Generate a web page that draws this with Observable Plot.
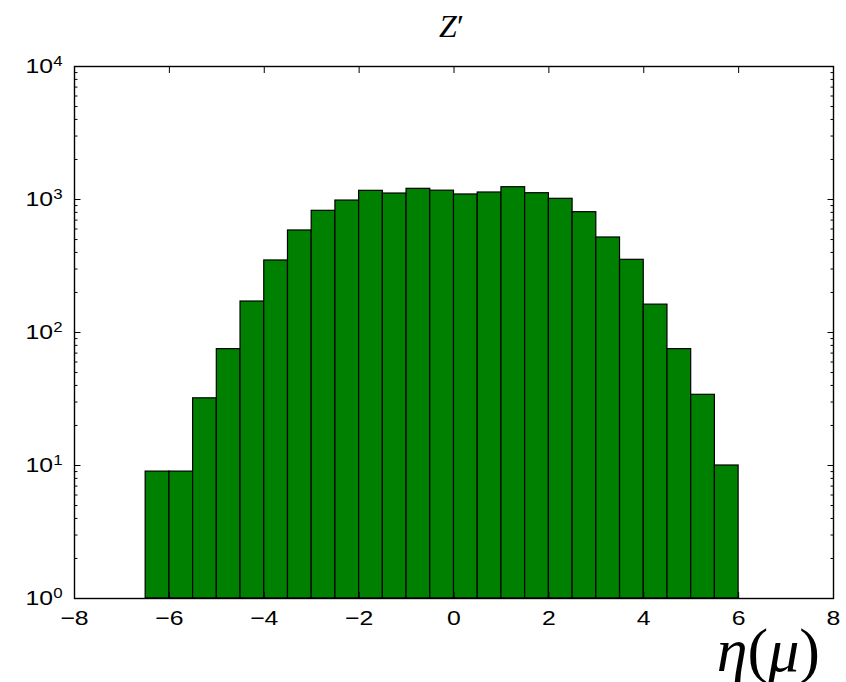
<!DOCTYPE html>
<html>
<head>
<meta charset="utf-8">
<script src="https://cdn.jsdelivr.net/npm/d3@7"></script>
<script src="https://cdn.jsdelivr.net/npm/@observablehq/plot@0.6"></script>
<style>
  html, body { margin: 0; padding: 0; background: #fff; }
  #chart svg { display: block; }
</style>
</head>
<body>
<div id="chart"></div>
<script>
// Pseudorapidity of the muon from Z' decays: counts per 0.5-wide bin
const binStarts = [-6.5, -6, -5.5, -5, -4.5, -4, -3.5, -3, -2.5, -2, -1.5, -1, -0.5,
                   0, 0.5, 1, 1.5, 2, 2.5, 3, 3.5, 4, 4.5, 5, 5.5];
const binWidth = 0.5;
const counts = [9, 9, 32, 75, 171, 348, 585, 822, 982, 1162, 1109, 1203, 1165,
                1091, 1129, 1237, 1115, 1012, 803, 518, 352, 162, 75, 34, 10];

// Axis ticks
const xTicks = [-8, -6, -4, -2, 0, 2, 4, 6, 8];
const yTicks = [1, 10, 100, 1000, 10000];
const yTickExponents = ["0", "1", "2", "3", "4"];
const yMinorTicks = [2, 3, 4, 5, 6, 7, 8, 9,
                     20, 30, 40, 50, 60, 70, 80, 90,
                     200, 300, 400, 500, 600, 700, 800, 900,
                     2000, 3000, 4000, 5000, 6000, 7000, 8000, 9000];

const titleText = "Z";
const xLabelVar = "η";
const xLabelArg = "μ";

const bins = binStarts.map((x0, i) => ({x0, x1: x0 + binWidth, count: counts[i]}));
const minus = d => (d < 0 ? "\u2212" + Math.abs(d) : String(d));
const power = d => "10^" + yTickExponents[yTicks.indexOf(d)];
const blank = () => "";

const W = 846, H = 682;
const chart = Plot.plot({
  width: W,
  height: H,
  marginTop: 66,
  marginRight: 13,
  marginBottom: 84,
  marginLeft: 74,
  style: {
    fontFamily: "'Liberation Sans', Arial, sans-serif",
    fontSize: "21px",
    color: "#000",
    background: "#fff",
    overflow: "visible"
  },
  x: {domain: [-8, 8]},
  y: {type: "log", domain: [1, 10000]},
  marks: [
    Plot.rectY(bins, {x1: "x0", x2: "x1", y1: 1, y2: "count",
                      fill: "#008000", stroke: "#000", strokeWidth: 1.2}),
    Plot.frame({stroke: "#000", strokeWidth: 1.4}),
    // x axis: labels below, inward ticks on bottom and top
    Plot.axisX(xTicks, {anchor: "bottom", tickSize: 0, tickPadding: 12,
                        tickFormat: minus, label: null}),
    Plot.axisX(xTicks, {anchor: "bottom", tickSize: -6, tickFormat: blank, label: null}),
    Plot.axisX(xTicks, {anchor: "top", tickSize: -6, tickFormat: blank, label: null}),
    // y axis: powers of ten on the left, inward major and minor ticks on both sides
    Plot.axisY(yTicks, {anchor: "left", tickSize: 0, tickPadding: 12,
                        tickFormat: power, label: null}),
    Plot.axisY(yTicks, {anchor: "left", tickSize: -6.5, tickFormat: blank, label: null}),
    Plot.axisY(yTicks, {anchor: "right", tickSize: -6.5, tickFormat: blank, label: null}),
    Plot.axisY(yMinorTicks, {anchor: "left", tickSize: -3.5, tickFormat: blank, label: null}),
    Plot.axisY(yMinorTicks, {anchor: "right", tickSize: -3.5, tickFormat: blank, label: null})
  ]
});

document.getElementById("chart").appendChild(chart);

const svg = d3.select(chart);

// Superscript exponents on the y tick labels
svg.selectAll('g[aria-label="y-axis tick label"] text').each(function () {
  const t = d3.select(this);
  const s = t.text();
  if (!s.includes("^")) return;
  const [base, exp] = s.split("^");
  t.text(base);
  t.append("tspan").attr("dy", "-0.5em").attr("font-size", "0.68em").text(exp);
});

// Slightly wider tick-label glyphs: stretch each label horizontally about its anchor
const stretch = 1.18;
svg.selectAll('g[aria-label="x-axis tick label"] text, g[aria-label="y-axis tick label"] text')
  .each(function () {
    const tr = this.getAttribute("transform") || "";
    const m = /translate\(\s*([-\d.e]+)[ ,]+([-\d.e]+)\s*\)/.exec(tr);
    const ax = (m ? +m[1] : 0) + (+this.getAttribute("x") || 0);
    const ay = (m ? +m[2] : 0) + (+this.getAttribute("y") || 0);
    this.setAttribute("transform",
      `translate(${ax},${ay}) scale(${stretch},1) translate(${-ax},${-ay}) ${tr}`);
  });

const xs = chart.scale("x");
const ys = chart.scale("y");
const cx = (xs.apply(-8) + xs.apply(8)) / 2;

// Title
const title = svg.append("text")
  .attr("x", cx - 2)
  .attr("y", ys.apply(10000) - 29)
  .attr("text-anchor", "middle")
  .attr("font-family", "'Liberation Serif', 'Times New Roman', serif")
  .attr("font-size", 32)
  .attr("fill", "#000");
title.append("tspan").attr("font-style", "italic").text(titleText);
title.append("tspan").text("\u2032");

// x-axis label, bottom right
const xl = svg.append("text")
  .attr("x", xs.apply(8) - 13)
  .attr("y", ys.apply(1) + 73)
  .attr("text-anchor", "end")
  .attr("font-family", "'Liberation Serif', 'Times New Roman', serif")
  .attr("font-size", 62)
  .attr("fill", "#000");
xl.append("tspan").attr("font-style", "italic").text(xLabelVar);
xl.append("tspan").text("(");
xl.append("tspan").attr("font-style", "italic").text(xLabelArg);
xl.append("tspan").text(")");
</script>
</body>
</html>
